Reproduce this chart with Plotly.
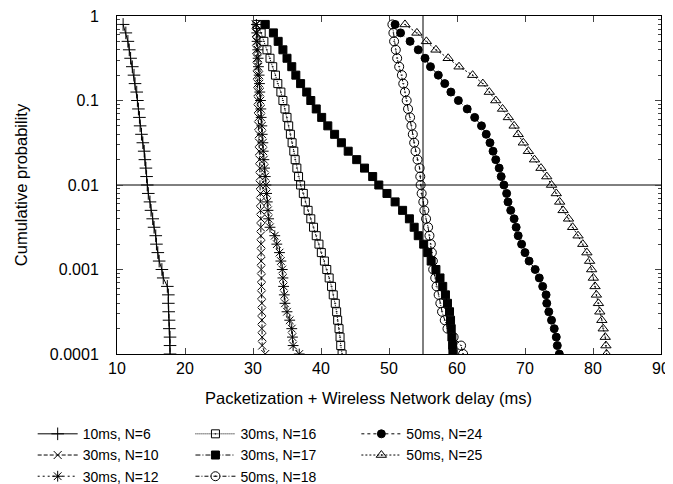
import plotly.graph_objects as go

# Cumulative (complementary) probability levels, shared by all series
PROB = [0.7943, 0.6310, 0.5012, 0.3981, 0.3162, 0.2512, 0.1995, 0.1585, 0.1259, 0.1,
        0.07943, 0.06310, 0.05012, 0.03981, 0.03162, 0.02512, 0.01995, 0.01585, 0.01259, 0.01,
        0.007943, 0.006310, 0.005012, 0.003981, 0.003162, 0.002512, 0.001995, 0.001585, 0.001259, 0.001,
        0.0007943, 0.0006310, 0.0005012, 0.0003981, 0.0003162, 0.0002512, 0.0001995, 0.0001585, 0.0001259, 0.0001]

D10_N6 = [10.9, 11.3, 11.6, 11.8, 12.0, 12.25, 12.5, 12.65, 12.9, 13.0, 13.15, 13.3, 13.4, 13.6, 13.8, 14.0, 14.1, 14.25, 14.35, 14.45,
          14.6, 14.85, 15.0, 15.25, 15.45, 15.7, 15.8, 16.0, 16.2, 16.6, 16.8, 17.4, 17.55, 17.55, 17.6, 17.65, 17.7, 17.8, 17.8, 17.8]
D30_N10 = [30.4, 30.45, 30.5, 30.5, 30.55, 30.6, 30.6, 30.65, 30.7, 30.7, 30.75, 30.8, 30.8, 30.85, 30.9, 30.9, 30.95, 31.0, 31.0, 31.05,
           31.1, 31.1, 31.1, 31.15, 31.15, 31.15, 31.2, 31.2, 31.2, 31.2, 31.25, 31.25, 31.25, 31.3, 31.3, 31.3, 31.3, 31.35, 31.35, 31.8]
D30_N12 = [30.5, 30.55, 30.6, 30.7, 30.75, 30.8, 30.9, 30.95, 31.0, 31.1, 31.15, 31.2, 31.3, 31.35, 31.45, 31.5, 31.6, 31.7, 31.8, 31.9,
           32.0, 32.1, 32.2, 32.3, 32.5, 33.2, 33.5, 33.9, 34.1, 34.3, 34.4, 34.5, 34.6, 34.7, 35.0, 35.4, 35.7, 35.8, 35.9, 36.8]
D30_N16 = [30.6, 31.2, 31.6, 32.05, 32.5, 32.9, 33.3, 33.65, 34.1, 34.4, 34.7, 35.0, 35.25, 35.5, 35.75, 36.0, 36.2, 36.45, 36.7, 37.0,
           37.4, 37.7, 38.1, 38.5, 38.9, 39.3, 39.7, 40.05, 40.5, 40.85, 41.2, 41.55, 41.8, 42.1, 42.3, 42.45, 42.65, 42.8, 42.9, 43.1]
D30_N17 = [31.8, 33.0, 33.7, 34.4, 35.0, 35.7, 36.3, 37.0, 37.9, 38.5, 39.3, 40.1, 41.0, 42.0, 43.0, 44.0, 45.25, 46.4, 47.6, 48.5,
           49.7, 50.9, 52.0, 53.0, 53.7, 54.3, 55.1, 55.7, 56.2, 56.9, 57.5, 57.9, 58.3, 58.6, 58.9, 59.05, 59.15, 59.25, 59.35, 59.4]
D50_N18 = [50.5, 50.65, 50.75, 51.0, 51.2, 51.5, 51.9, 52.1, 52.35, 52.6, 52.8, 53.1, 53.3, 53.5, 53.7, 53.9, 54.2, 54.5, 54.6, 54.65,
           54.8, 55.05, 55.2, 55.45, 55.75, 55.95, 56.15, 56.3, 56.45, 56.5, 56.8, 57.0, 57.3, 57.55, 57.8, 58.2, 58.6, 59.5, 60.6, 60.9]
D50_N24 = [50.9, 51.7, 53.1, 54.3, 55.3, 56.1, 57.25, 58.2, 59.1, 60.2, 61.5, 62.6, 63.6, 64.3, 64.85, 65.3, 65.7, 66.2, 66.5, 66.9,
           67.3, 67.5, 67.9, 68.4, 68.7, 69.0, 69.5, 70.0, 70.6, 71.5, 72.1, 72.6, 73.1, 73.2, 73.5, 73.9, 74.3, 74.6, 74.75, 75.05]
D50_N25 = [52.35, 54.1, 55.5, 56.9, 58.7, 60.3, 62.3, 63.8, 64.75, 65.7, 66.7, 67.55, 68.4, 69.0, 69.75, 70.5, 71.4, 72.35, 73.2, 73.9,
           74.6, 75.1, 75.6, 76.4, 77.0, 77.8, 78.5, 79.1, 79.5, 79.8, 80.05, 80.3, 80.5, 80.8, 81.0, 81.3, 81.5, 81.8, 81.9, 82.0]

X_TICKS = [10, 20, 30, 40, 50, 60, 70, 80, 90]
Y_TICKS = [0.0001, 0.001, 0.01, 0.1, 1]
Y_TICK_LABELS = ["0.0001", "0.001", "0.01", "0.1", "1"]
THRESH_DELAY = 55
THRESH_PROB = 0.01
X_TITLE = "Packetization + Wireless Network delay (ms)"
Y_TITLE = "Cumulative probability"

# name, x values, marker symbol, dash, marker size, legend column
SERIES = [
    ("10ms, N=6", D10_N6, "cross-thin-open", "solid", 9, "legend"),
    ("30ms, N=10", D30_N10, "x-thin-open", "4px,2px", 8, "legend"),
    ("30ms, N=12", D30_N12, "asterisk-open", "2px,3px", 9, "legend"),
    ("30ms, N=16", D30_N16, "square-open-dot", "1px,1px", 8, "legend2"),
    ("30ms, N=17", D30_N17, "square", "5px,2px,1px,2px", 8, "legend2"),
    ("50ms, N=18", D50_N18, "circle-open-dot", "4px,2px,1px,2px", 9, "legend2"),
    ("50ms, N=24", D50_N24, "circle", "3px,3px", 8, "legend3"),
    ("50ms, N=25", D50_N25, "triangle-up-open-dot", "2px,2px", 9, "legend3"),
]

fig = go.Figure()
# reference threshold lines
fig.add_trace(go.Scatter(x=[X_TICKS[0], X_TICKS[-1]], y=[THRESH_PROB, THRESH_PROB], mode="lines",
                         line=dict(color="black", width=1), showlegend=False, hoverinfo="skip"))
fig.add_trace(go.Scatter(x=[THRESH_DELAY, THRESH_DELAY], y=[Y_TICKS[0], Y_TICKS[-1]], mode="lines",
                         line=dict(color="black", width=1), showlegend=False, hoverinfo="skip"))

for name, xs, sym, dash, size, leg in SERIES:
    fig.add_trace(go.Scatter(
        x=xs, y=PROB, name=name, mode="lines+markers", legend=leg,
        line=dict(color="black", width=1, dash=dash),
        marker=dict(symbol=sym, size=size, color="black",
                    line=dict(color="black", width=1)),
    ))

minor_vals = [m * 10 ** e for e in range(-4, 0) for m in range(2, 10)]

font = "Liberation Sans"
leg_common = dict(orientation="v", yanchor="top", xanchor="left", y=-0.19,
                  itemwidth=40, font=dict(size=14), bgcolor="rgba(0,0,0,0)",
                  traceorder="normal", tracegroupgap=0)
fig.update_layout(
    width=665, height=476,
    margin=dict(l=109, r=12, t=8, b=130, autoexpand=False),
    paper_bgcolor="white", plot_bgcolor="white",
    font=dict(family=font, size=16, color="black"),
    showlegend=True,
    legend=dict(x=-0.155, **leg_common),
    legend2=dict(x=0.135, **leg_common),
    legend3=dict(x=0.44, **leg_common),
    xaxis=dict(range=[10, 90], tickvals=X_TICKS, ticks="inside", ticklen=6,
               showline=True, linecolor="black", linewidth=1, mirror="ticks",
               showgrid=False, zeroline=False, automargin=False, ticklabeloverflow="allow",
               tickfont=dict(size=16)),
    yaxis=dict(type="log", range=[-4, 0], tickvals=Y_TICKS, ticktext=Y_TICK_LABELS,
               ticks="inside", ticklen=6, showline=True, linecolor="black", linewidth=1,
               mirror="ticks", showgrid=False, zeroline=False, ticklabelstandoff=14,
               automargin=False, ticklabeloverflow="allow", tickfont=dict(size=16),
               minor=dict(tickmode="array", tickvals=minor_vals, ticks="inside", ticklen=3,
                          showgrid=False),
               title=dict(text=Y_TITLE, standoff=18, font=dict(size=16.5))),
    annotations=[dict(text=X_TITLE, xref="paper", yref="paper", x=0.462, y=-0.13,
                      xanchor="center", yanchor="middle", showarrow=False,
                      font=dict(size=16.5))],
)
fig.write_html("out.html")
